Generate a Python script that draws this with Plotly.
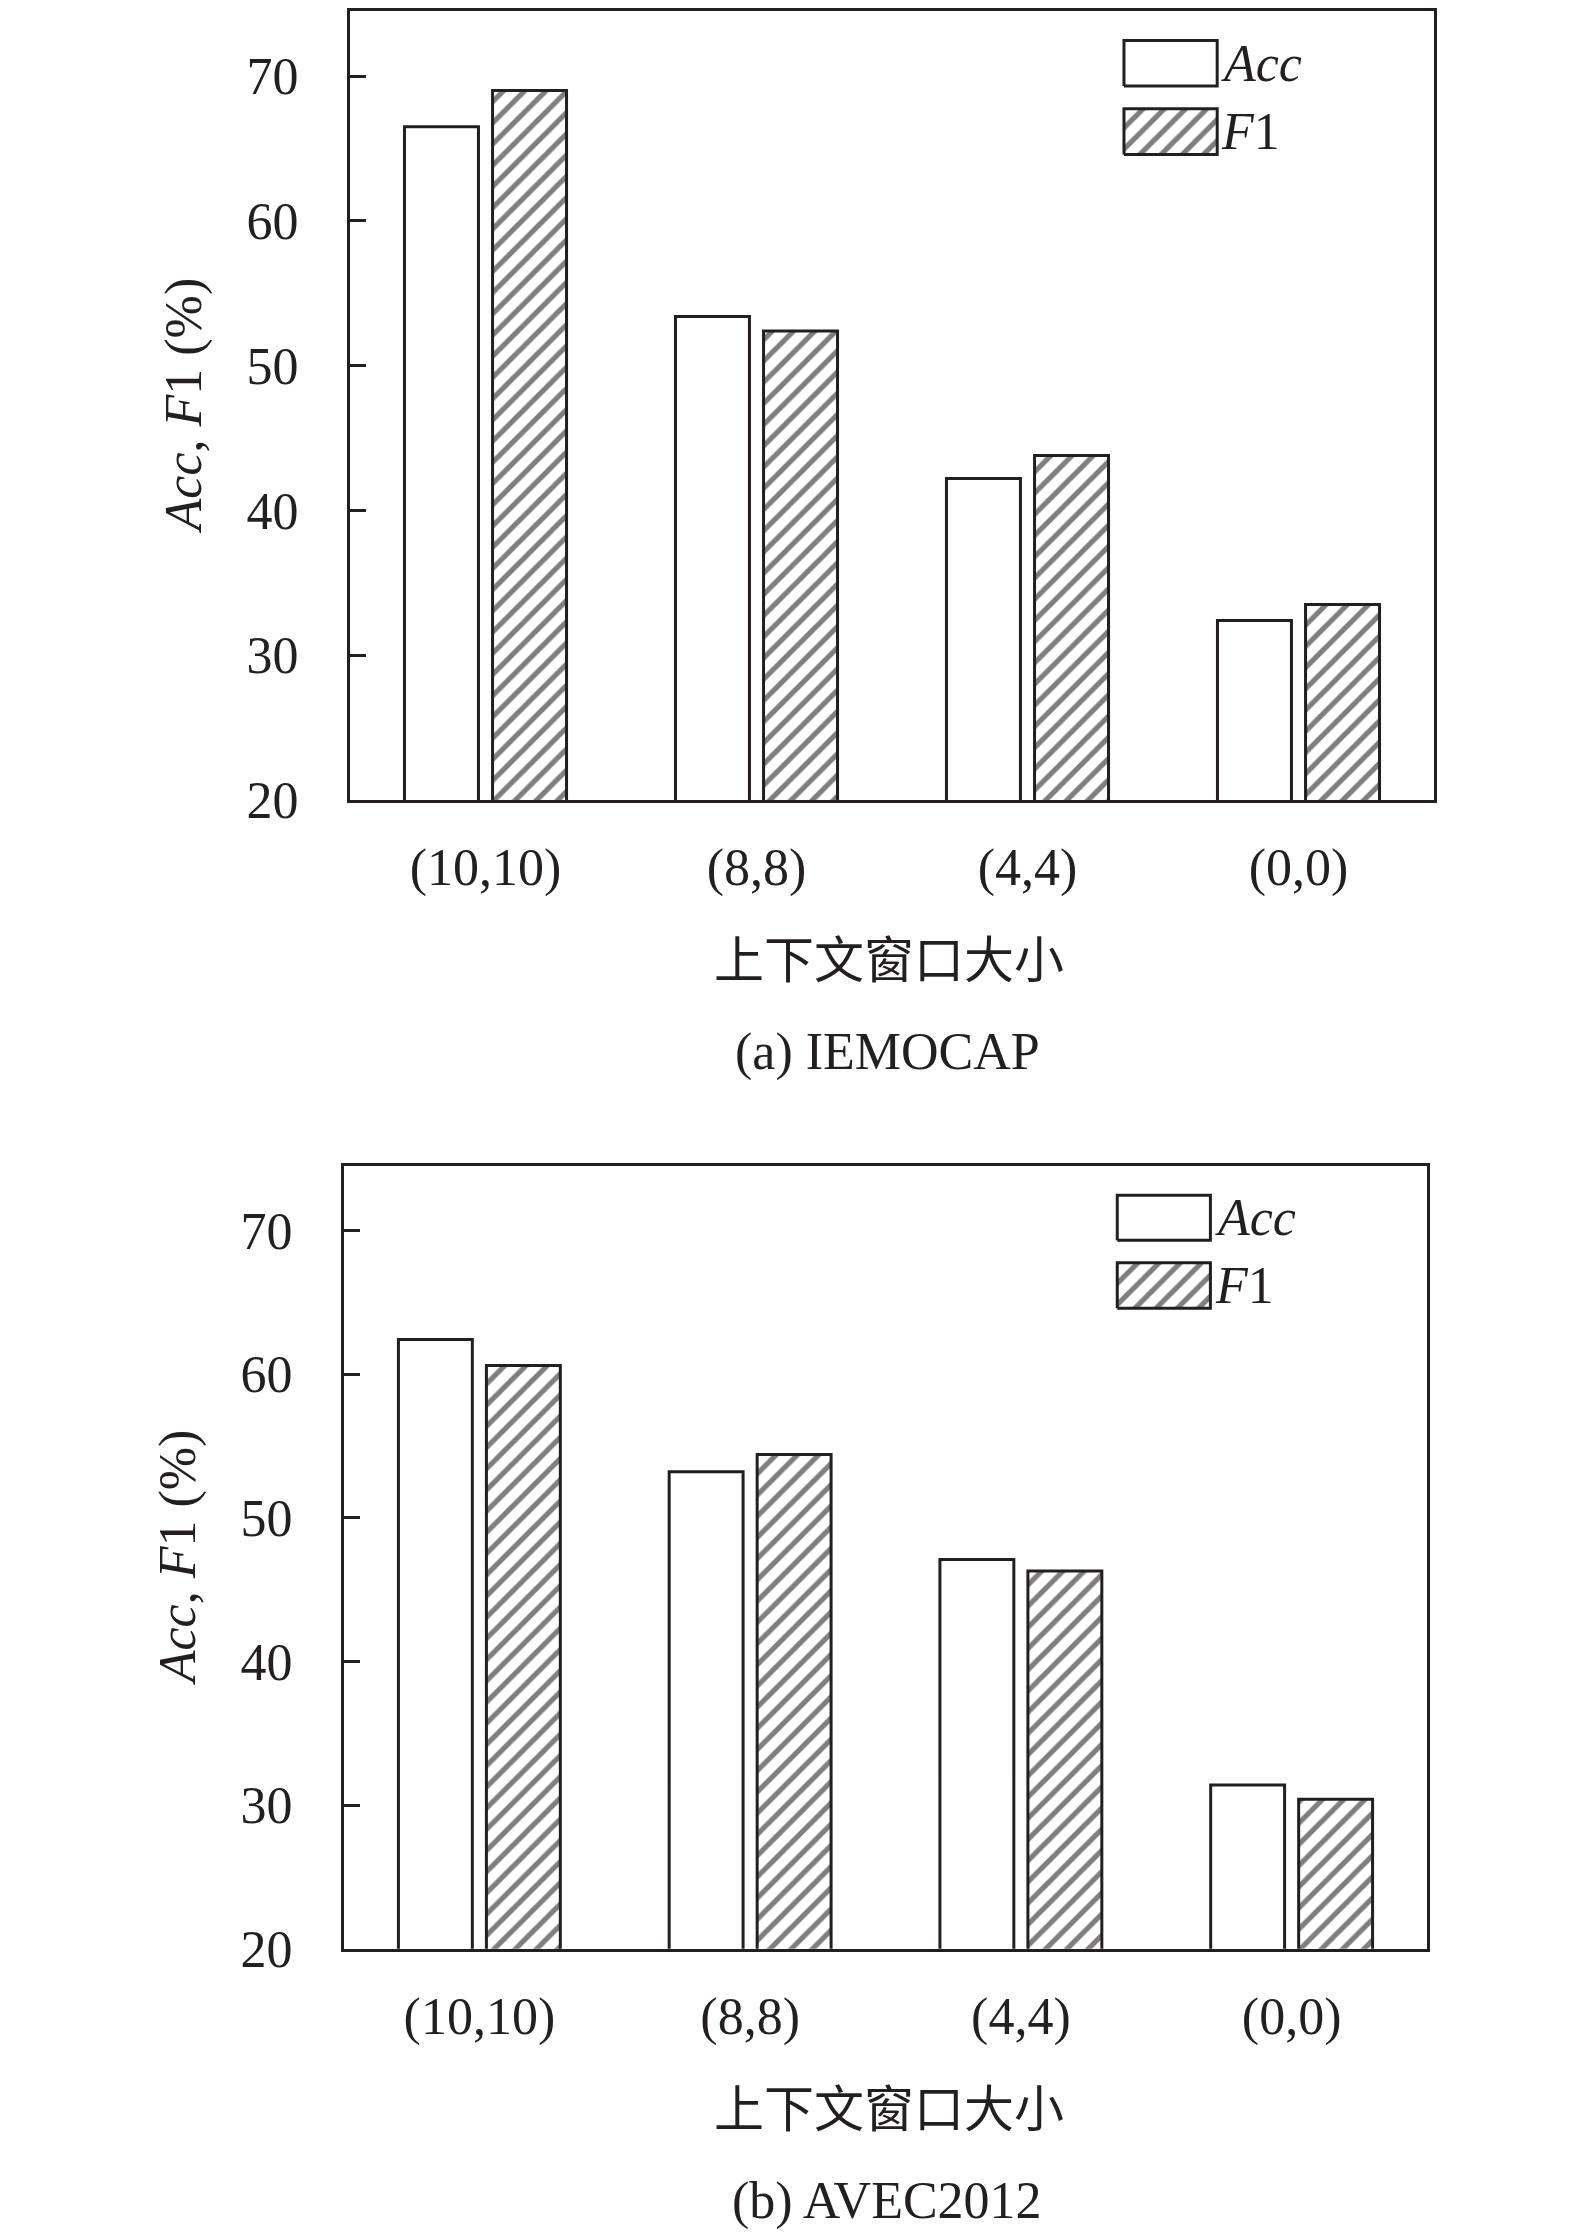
import plotly.graph_objects as go

# Data:
categories = ["(10,10)", "(8,8)", "(4,4)", "(0,0)"]
iemocap_acc = [66.5, 53.4, 42.2, 32.4]
iemocap_f1 = [69.0, 52.4, 43.8, 33.5]
avec_acc = [62.4, 53.2, 47.1, 31.4]
avec_f1 = [60.6, 54.4, 46.3, 30.4]
y_ticks = [20, 30, 40, 50, 60, 70]
panel_captions = ["(a) IEMOCAP", "(b) AVEC2012"]
x_title = "上下文窗口大小"
y_title = "<i>Acc</i>, <i>F</i>1 (%)"
legend_names = ["<i>Acc</i>", "<i>F</i>1"]

W, H = 1575, 2239
INK = "#231f20"
SERIF = "Liberation Serif, Times New Roman, serif"
CJK = "Noto Sans CJK SC"
FS = 52
HATCH = dict(shape="/", fgcolor="#000000", bgcolor="white", size=15, solidity=0.35)

# panel geometry in pixels (left, right, top, bottom of the plot area)
panels = [
    dict(l=342, r=1426, t=1, b=801),
    dict(l=336, r=1419, t=1172, b=1966),
]

# legend box placement, fractions of the plot area
LEG_X = (0.714, 0.800)
LEG_Y = [(0.905, 0.9625), (0.818, 0.876)]


def px_x(v):
    return v / W


def px_y(v):
    return 1 - v / H


def add_panel(fig, i, acc, f1):
    p = panels[i]
    n = str(i + 1) if i else ""
    ln = str(i + 3)
    xa, ya = "x" + n, "y" + n

    fig.add_trace(go.Bar(x=categories, y=acc, name="Acc", xaxis=xa, yaxis=ya,
                         marker=dict(color="white", line=dict(color=INK, width=3))))
    fig.add_trace(go.Bar(x=categories, y=f1, name="F1", xaxis=xa, yaxis=ya,
                         marker=dict(color="white", pattern=HATCH, line=dict(color=INK, width=3))))

    xdom = [px_x(p["l"]), px_x(p["r"])]
    ydom = [px_y(p["b"]), px_y(p["t"])]
    axis_line = dict(showline=True, mirror=True, linewidth=3, linecolor=INK, showgrid=False, zeroline=False)

    fig.update_layout(**{
        "xaxis" + n: dict(domain=xdom, anchor=ya, range=[-0.5, 3.5], ticks="",
                          tickfont=dict(family=SERIF, size=FS, color=INK),
                          ticklabelstandoff=20, **axis_line),
        "yaxis" + n: dict(domain=ydom, anchor=xa, range=[20, 74.5], tickvals=y_ticks,
                          ticks="inside", ticklen=16, tickwidth=3, tickcolor=INK,
                          tickfont=dict(family=SERIF, size=FS, color=INK),
                          ticklabelstandoff=38, **axis_line),
        "xaxis" + ln: dict(domain=xdom, overlaying=xa, anchor="y" + ln, range=[0, 1], visible=False),
        "yaxis" + ln: dict(domain=ydom, overlaying=ya, anchor="x" + ln, range=[0, 1], visible=False),
    })

    # Legend drawn as boxes so the swatches match the original size:
    for k, (y0, y1) in enumerate(LEG_Y):
        x0, x1 = LEG_X
        fig.add_trace(go.Scatter(
            x=[x0, x1, x1, x0, x0], y=[y0, y0, y1, y1, y0],
            xaxis="x" + ln, yaxis="y" + ln, mode="lines", fill="toself",
            fillcolor="white", fillpattern=HATCH if k == 1 else None,
            line=dict(color=INK, width=3), hoverinfo="skip"))
        fig.add_annotation(xref="x" + ln + " domain", yref="y" + ln + " domain",
                           x=x1 + 0.002, y=(y0 + y1) / 2, text=legend_names[k],
                           showarrow=False, xanchor="left", yanchor="middle",
                           font=dict(family=SERIF, size=FS, color=INK))

    # axis titles and panel caption
    ymid = px_y((p["t"] + p["b"]) / 2)
    fig.add_annotation(xref="paper", yref="paper", x=px_x(p["l"] - 166), y=ymid,
                       text=y_title, textangle=-90, showarrow=False,
                       xanchor="center", yanchor="middle",
                       font=dict(family=SERIF, size=FS, color=INK))
    fig.add_annotation(xref="paper", yref="paper", x=px_x(881), y=px_y(p["b"] + 158),
                       text=x_title, showarrow=False, xanchor="center", yanchor="middle",
                       font=dict(family=CJK, size=50, color=INK))
    fig.add_annotation(xref="paper", yref="paper", x=px_x(879), y=px_y(p["b"] + 256),
                       text=panel_captions[i], showarrow=False, xanchor="center", yanchor="middle",
                       font=dict(family=SERIF, size=FS, color=INK))


fig = go.Figure()
add_panel(fig, 0, iemocap_acc, iemocap_f1)
add_panel(fig, 1, avec_acc, avec_f1)

fig.update_layout(
    width=W, height=H,
    margin=dict(l=0, r=0, t=0, b=0),
    paper_bgcolor="white", plot_bgcolor="white",
    barmode="group", bargap=0.35, bargroupgap=0.16,
    showlegend=False,
)

fig.write_html("out.html")
